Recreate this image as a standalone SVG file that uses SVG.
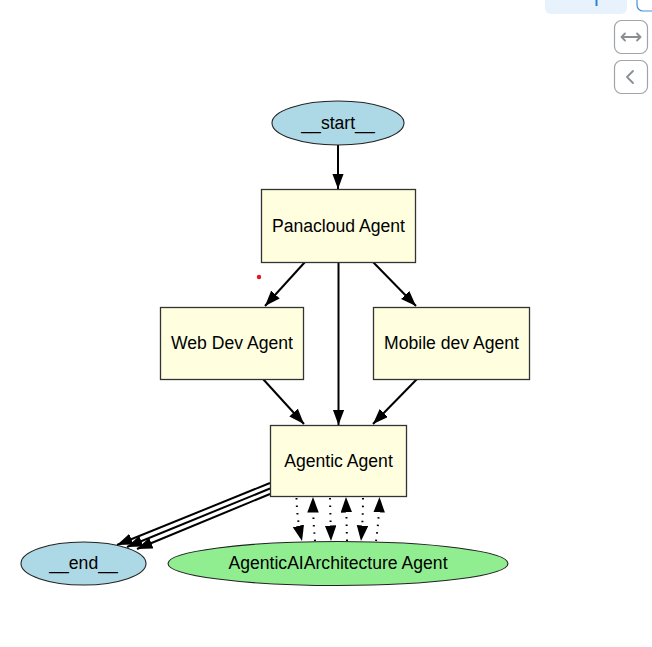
<svg xmlns="http://www.w3.org/2000/svg" width="652" height="647" viewBox="0 0 652 647">
<style>
.box{fill:#ffffe0;stroke:#333;stroke-width:1.3}
.blue{fill:#add8e6;stroke:#222;stroke-width:1.1}
.green{fill:#90ee90;stroke:#222;stroke-width:1.1}
.lbl{font-family:"Liberation Sans",Arial,sans-serif;font-size:17.6px;fill:#000;text-anchor:middle}
.e{fill:none;stroke:#000;stroke-width:2}
.d{fill:none;stroke:#000;stroke-width:2;stroke-dasharray:1.5 6}
.ui{fill:#fff;stroke:#a0a4a8;stroke-width:1.2}
.ico{fill:none;stroke:#8a8f94;stroke-width:1.8;stroke-linecap:round;stroke-linejoin:round}
</style>
<defs>
<marker id="ah" markerUnits="userSpaceOnUse" markerWidth="17" markerHeight="12" refX="15.5" refY="5.75" orient="auto">
<path d="M0,0 L15.5,5.75 L0,11.5 z" fill="#000"/>
</marker>
</defs>
<rect width="652" height="647" fill="#fff"/>
<g id="ui">
<path d="M545,0 H627 V8 a6,6 0 0 1 -6,6 H551 a6,6 0 0 1 -6,-6 z" fill="#e8f2fc"/>
<line x1="596.5" y1="0" x2="596.5" y2="6" stroke="#2f80d8" stroke-width="2"/>
<path d="M637,0 V5 a6,6 0 0 0 6,6 H652" fill="none" stroke="#4a90d9" stroke-width="1.2"/>
<rect class="ui" x="614.5" y="20.5" width="33" height="33" rx="7"/>
<path class="ico" d="M622,37 H640 M625,33.5 L621.5,37 L625,40.5 M637,33.5 L640.5,37 L637,40.5"/>
<rect class="ui" x="614.5" y="60.5" width="33" height="33" rx="7"/>
<path class="ico" d="M633,71 L627,77 L633,83"/>
<circle cx="259" cy="277" r="2.2" fill="#e8141c"/>
</g>
<g id="connectors">
<line class="e" x1="338" y1="145" x2="338" y2="189" marker-end="url(#ah)"/>
<line class="e" x1="305" y1="262" x2="265" y2="306" marker-end="url(#ah)"/>
<line class="e" x1="338.5" y1="262" x2="338.5" y2="425" marker-end="url(#ah)"/>
<line class="e" x1="373" y1="262" x2="416" y2="306" marker-end="url(#ah)"/>
<line class="e" x1="263" y1="379" x2="304" y2="424" marker-end="url(#ah)"/>
<line class="e" x1="417" y1="379" x2="373" y2="424" marker-end="url(#ah)"/>
<line class="e" x1="270" y1="483" x2="117" y2="545" marker-end="url(#ah)"/>
<line class="e" x1="270" y1="488.5" x2="127" y2="547" marker-end="url(#ah)"/>
<line class="e" x1="270" y1="494" x2="137" y2="549" marker-end="url(#ah)"/>
<path class="d" d="M296.5,498 Q297,520 302,541" marker-end="url(#ah)"/>
<path class="d" d="M330,498 L331,541" marker-end="url(#ah)"/>
<path class="d" d="M363,498 Q363,520 361,541" marker-end="url(#ah)"/>
<path class="d" d="M315,541 Q313,520 313,497" marker-end="url(#ah)"/>
<path class="d" d="M347,541 L346,497" marker-end="url(#ah)"/>
<path class="d" d="M376,541 Q379,520 379.5,497" marker-end="url(#ah)"/>
</g>
<g id="start"><ellipse class="blue" cx="338" cy="123" rx="66" ry="22"/><text class="lbl" x="338" y="129">__start__</text></g>
<g id="panacloud"><rect class="box" x="261.5" y="189.5" width="154" height="73"/><text class="lbl" x="338.5" y="231.5">Panacloud Agent</text></g>
<g id="webdev"><rect class="box" x="160.5" y="307.5" width="143" height="72"/><text class="lbl" x="232" y="349">Web Dev Agent</text></g>
<g id="mobiledev"><rect class="box" x="373.5" y="307.5" width="156" height="72"/><text class="lbl" x="451.5" y="349">Mobile dev Agent</text></g>
<g id="agentic"><rect class="box" x="270.5" y="425.5" width="136" height="71"/><text class="lbl" x="338.5" y="466.5">Agentic Agent</text></g>
<g id="end"><ellipse class="blue" cx="83.5" cy="563.5" rx="62.5" ry="21.5"/><text class="lbl" x="83.5" y="569">__end__</text></g>
<g id="aiarch"><ellipse class="green" cx="338" cy="563.5" rx="170" ry="22"/><text class="lbl" x="338" y="569">AgenticAIArchitecture Agent</text></g>
</svg>
